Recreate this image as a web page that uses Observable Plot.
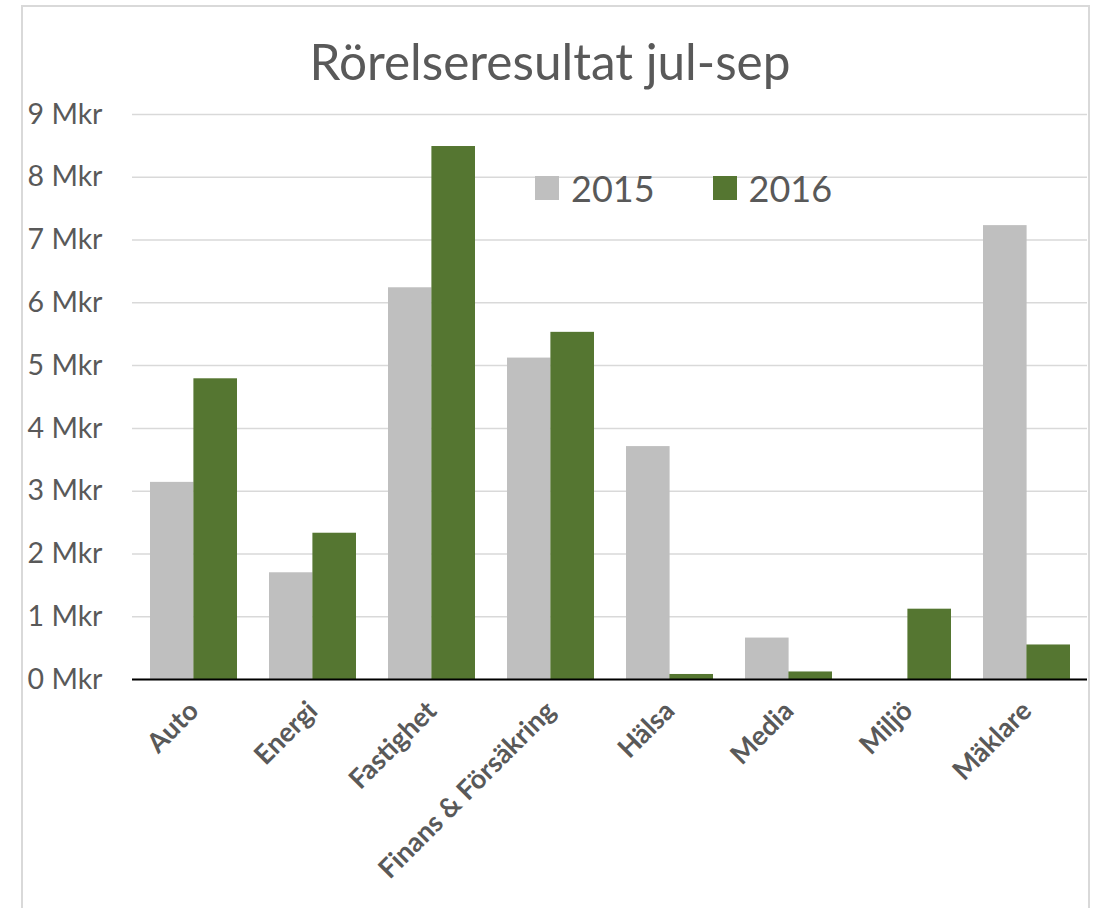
<!DOCTYPE html>
<html>
<head>
<meta charset="utf-8">
<script src="https://cdn.jsdelivr.net/npm/d3@7"></script>
<script src="https://cdn.jsdelivr.net/npm/@observablehq/plot@0.6"></script>
<style>
  html, body { margin: 0; padding: 0; background: #fff; }
  #wrap { position: relative; width: 1094px; height: 908px; overflow: hidden; font-family: Lato, "Open Sans", sans-serif; color: #595959; }
  #frame { position: absolute; left: 21px; top: 5px; width: 1065px; height: 960px; border: 2px solid #d9d9d9; }
  #title { position: absolute; left: 0; width: 1100px; top: 31px; text-align: center; font-size: 49.5px; font-weight: 400; color: #595959; white-space: nowrap; }
  #legend { position: absolute; top: 166px; left: 535px; display: flex; align-items: center; font-size: 36px; color: #595959; }
  #legend .item { display: flex; align-items: center; }
  #legend .sw { width: 24px; height: 24px; margin-right: 12px; }
  #chart { position: absolute; left: 0; top: 0; }
</style>
</head>
<body>
<div id="wrap">
  <div id="frame"></div>
  <div id="chart"></div>
  <div id="title"></div>
  <div id="legend"></div>
</div>
<script>
const titleText = "Rörelseresultat jul-sep";
const categories = ["Auto", "Energi", "Fastighet", "Finans & Försäkring", "Hälsa", "Media", "Miljö", "Mäklare"];
const seriesNames = ["2015", "2016"];
const values2015 = [3.14, 1.70, 6.24, 5.12, 3.71, 0.66, 0, 7.23];
const values2016 = [4.79, 2.33, 8.49, 5.53, 0.08, 0.12, 1.12, 0.55];
const seriesColors = ["#BFBFBF", "#557631"];
const yTicks = [0, 1, 2, 3, 4, 5, 6, 7, 8, 9];
const unit = "Mkr";

const data2015 = categories.map((c, i) => ({category: c, value: values2015[i]}));
const data2016 = categories.map((c, i) => ({category: c, value: values2016[i]}));

const W = 1094, H = 908;
const mL = 132, mR = 7, mT = 114, mB = 229;
const padInner = 0.273, padOuter = 0.136;
const step = (W - mL - mR) / (categories.length - padInner + 2 * padOuter);
const bandwidth = step * (1 - padInner);
const half = bandwidth / 2;

const chart = Plot.plot({
  width: W,
  height: H,
  marginLeft: mL,
  marginRight: mR,
  marginTop: mT,
  marginBottom: mB,
  style: {fontFamily: "Lato, 'Open Sans', sans-serif", color: "#595959", background: "transparent", overflow: "visible"},
  x: {domain: categories, paddingInner: padInner, paddingOuter: padOuter, label: null},
  y: {domain: [0, 9], label: null},
  marks: [
    Plot.gridY(yTicks, {stroke: "#d9d9d9", strokeOpacity: 1, strokeWidth: 1.5}),
    Plot.barY(data2015, {x: "category", y: "value", fill: seriesColors[0], insetRight: half}),
    Plot.barY(data2016, {x: "category", y: "value", fill: seriesColors[1], insetLeft: half}),
    Plot.ruleY([0], {stroke: "#000", strokeWidth: 2}),
    Plot.axisY(yTicks, {tickSize: 0, tickPadding: 30, tickFormat: d => `${d} ${unit}`, fontSize: 28.5, fill: "#595959", label: null}),
    Plot.axisX({tickSize: 0, tickPadding: 27, tickRotate: -45, fontSize: 27, fontWeight: "bold", fill: "#595959", label: null})
  ]
});
document.getElementById("chart").appendChild(chart);
document.getElementById("title").textContent = titleText;

const legend = document.getElementById("legend");
seriesNames.forEach((name, i) => {
  const item = document.createElement("div");
  item.className = "item";
  if (i > 0) item.style.marginLeft = "58px";
  const sw = document.createElement("div");
  sw.className = "sw";
  sw.style.background = seriesColors[i];
  const tx = document.createElement("span");
  tx.textContent = name;
  item.appendChild(sw);
  item.appendChild(tx);
  legend.appendChild(item);
});
</script>
</body>
</html>
